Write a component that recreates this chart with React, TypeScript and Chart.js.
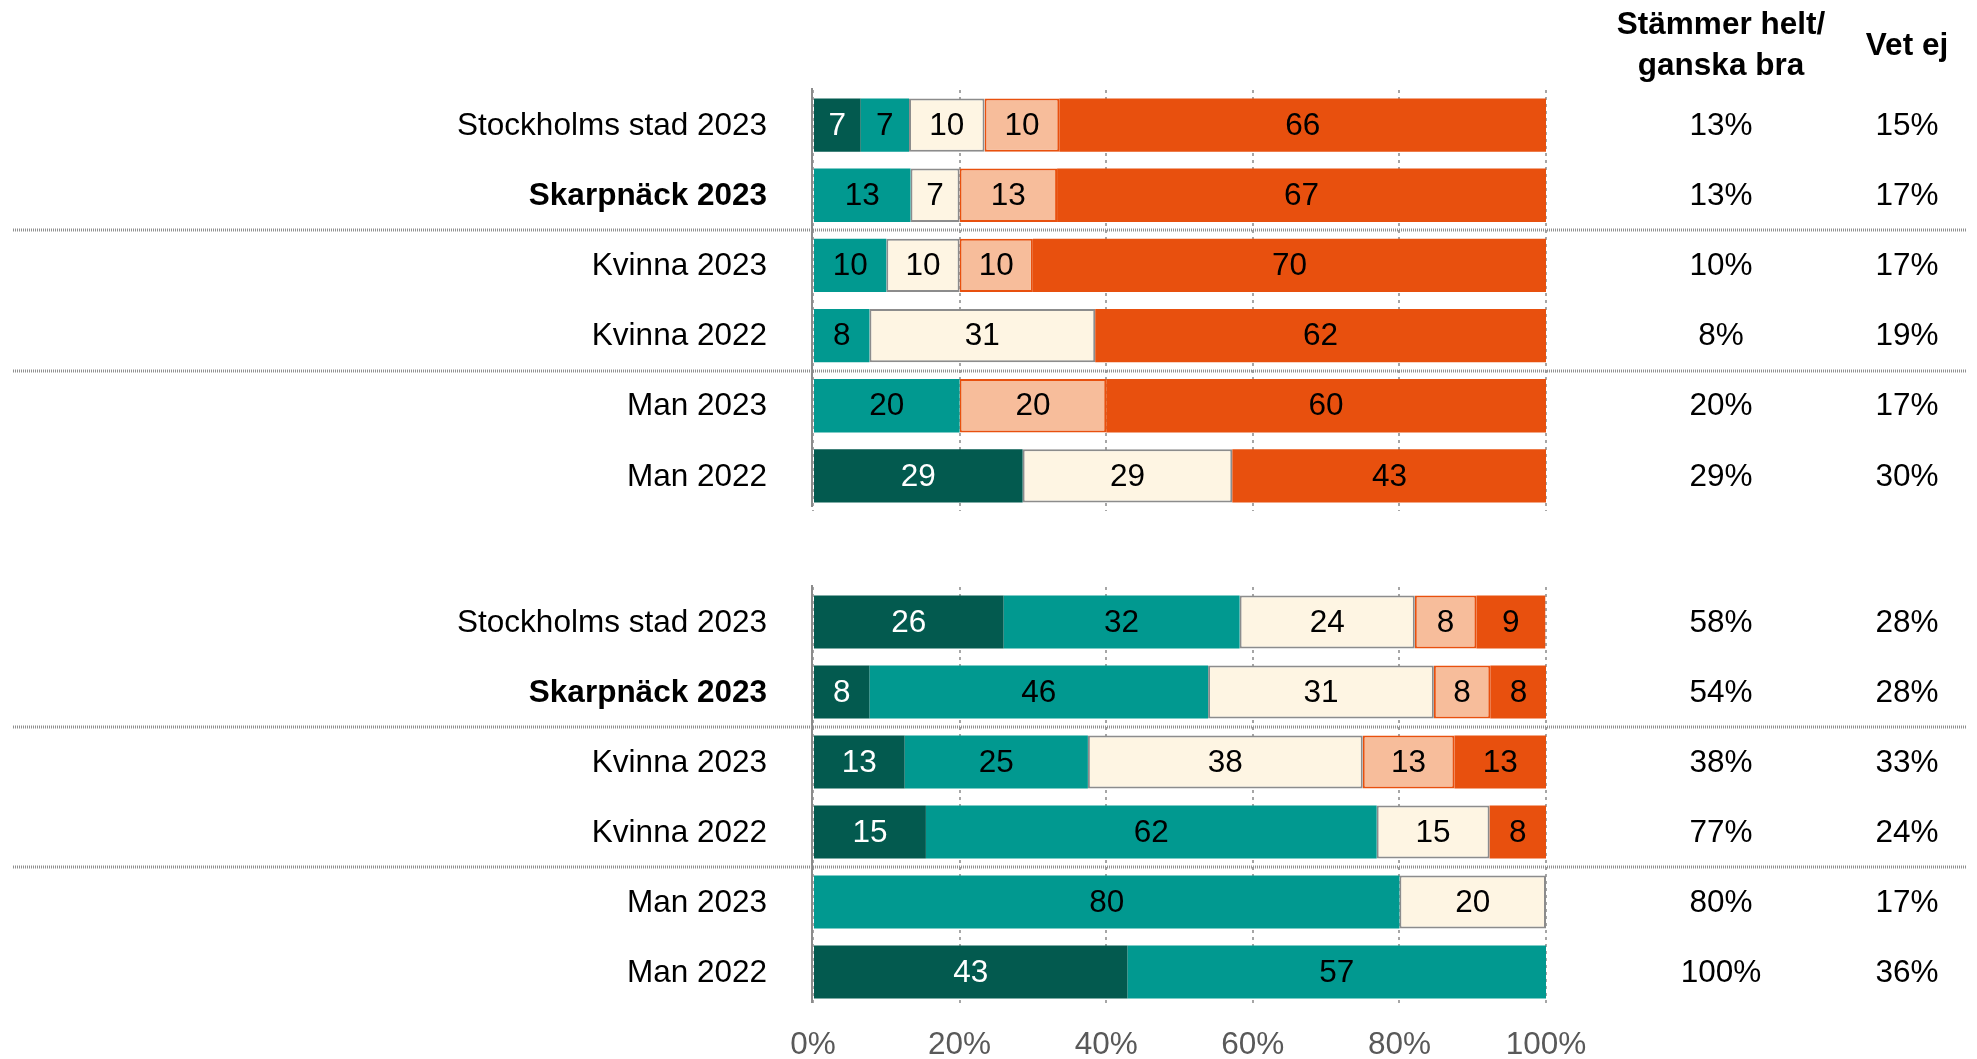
import React, { useEffect, useRef } from "react";
import { Chart, registerables } from "chart.js";

Chart.register(...registerables);

// ---------- data ----------
const categories = [
  "Stockholms stad 2023",
  "Skarpnäck 2023",
  "Kvinna 2023",
  "Kvinna 2022",
  "Man 2023",
  "Man 2022",
];
const boldCategory = "Skarpnäck 2023";
const seriesNames = [
  "Stämmer helt",
  "Stämmer ganska bra",
  "Varken eller",
  "Stämmer ganska dåligt",
  "Stämmer inte alls",
];

// upper panel
const topHelt = [6.5, 0, 0, 0, 0, 28.6];
const topGanska = [6.6, 13.3, 10, 7.7, 20, 0];
const topNeutral = [10.3, 6.7, 10, 30.8, 0, 28.6];
const topGanskaDalig = [10.2, 13.3, 10, 0, 20, 0];
const topDalig = [66.4, 66.7, 70, 61.5, 60, 42.9];
const topAgree = ["13%", "13%", "10%", "8%", "20%", "29%"];
const topDontKnow = ["15%", "17%", "17%", "19%", "17%", "30%"];

// lower panel
const botHelt = [26, 7.7, 12.5, 15.4, 0, 42.9];
const botGanska = [32.2, 46.2, 25, 61.5, 80, 57.1];
const botNeutral = [23.9, 30.8, 37.5, 15.4, 20, 0];
const botGanskaDalig = [8.4, 7.7, 12.5, 0, 0, 0];
const botDalig = [9.4, 7.7, 12.5, 7.7, 0, 0];
const botAgree = ["58%", "54%", "38%", "77%", "80%", "100%"];
const botDontKnow = ["28%", "28%", "33%", "24%", "17%", "36%"];

const xTickValues = [0, 20, 40, 60, 80, 100];
const headerAgree = ["Stämmer helt/", "ganska bra"];
const headerDontKnow = "Vet ej";

// ---------- styles ----------
const COLORS = ["#035a4f", "#019990", "#fef5e3", "#f7bd9b", "#e8500e"];
const BORDERS = [null, null, "#8c8c8c", "#e8500e", null];
const LABEL_COLORS = ["#ffffff", "#000000", "#000000", "#000000", "#000000"];
const SANS = '"Liberation Sans", Arial, sans-serif';
const FS = 31.5;

const W = 1977;
const LABEL_RIGHT = 767;
const COL_AGREE = 1721;
const COL_DK = 1907;

function buildConfig(
  series: number[][],
  agree: string[],
  dontKnow: string[],
  showHeader: boolean,
  showTicks: boolean,
  padding: { top: number; bottom: number }
): any {
  const overlay = {
    id: "overlay" + (showHeader ? "Top" : "Bot"),
    afterDatasetsDraw(chart: any) {
      const ctx = chart.ctx;
      const xs = chart.scales.x;
      const ys = chart.scales.y;
      const area = chart.chartArea;
      ctx.save();
      // axis line
      ctx.strokeStyle = "#8c8c8c";
      ctx.lineWidth = 2;
      ctx.setLineDash([]);
      const x0 = Math.round(xs.getPixelForValue(0)) - 1;
      ctx.beginPath();
      ctx.moveTo(x0, area.top - 2);
      ctx.lineTo(x0, area.bottom - 4);
      ctx.stroke();

      // segment value labels
      ctx.font = `${FS}px ${SANS}`;
      ctx.textAlign = "center";
      ctx.textBaseline = "middle";
      series.forEach((vals, d) => {
        const meta = chart.getDatasetMeta(d);
        meta.data.forEach((bar: any, i: number) => {
          const v = vals[i];
          if (!v) return;
          const p = bar.getProps(["x", "base", "y"], true);
          ctx.fillStyle = LABEL_COLORS[d];
          ctx.fillText(String(Math.round(v)), (p.x + p.base) / 2, p.y + 1);
        });
      });

      // category labels and right columns
      categories.forEach((c, i) => {
        const y = ys.getPixelForValue(i);
        ctx.fillStyle = "#000000";
        ctx.textAlign = "right";
        ctx.font = `${c === boldCategory ? "bold " : ""}${FS}px ${SANS}`;
        ctx.fillText(c, LABEL_RIGHT, y + 1);
        ctx.font = `${FS}px ${SANS}`;
        ctx.textAlign = "center";
        ctx.fillText(agree[i], COL_AGREE, y + 1);
        ctx.fillText(dontKnow[i], COL_DK, y + 1);
      });

      // separators
      ctx.strokeStyle = "#8f8f8f";
      ctx.lineWidth = 3;
      ctx.setLineDash([1, 1]);
      [1, 3].forEach((i) => {
        const y = Math.round((ys.getPixelForValue(i) + ys.getPixelForValue(i + 1)) / 2);
        ctx.beginPath();
        ctx.moveTo(13, y);
        ctx.lineTo(1967, y);
        ctx.stroke();
      });
      ctx.setLineDash([]);

      // header
      if (showHeader) {
        ctx.fillStyle = "#000000";
        ctx.textAlign = "center";
        ctx.font = `bold ${FS}px ${SANS}`;
        ctx.fillText(headerAgree[0], COL_AGREE, 25);
        ctx.fillText(headerAgree[1], COL_AGREE, 66);
        ctx.fillText(headerDontKnow, COL_DK, 46);
      }
      ctx.restore();
    },
  };

  return {
    type: "bar",
    data: {
      labels: categories,
      datasets: series.map((vals, d) => ({
        label: seriesNames[d],
        data: vals,
        backgroundColor: COLORS[d],
        borderColor: BORDERS[d] || COLORS[d],
        borderWidth: BORDERS[d] ? 2 : 0,
        borderSkipped: false,
        barPercentage: 0.76,
        categoryPercentage: 1,
      })),
    },
    options: {
      indexAxis: "y",
      responsive: false,
      animation: false,
      devicePixelRatio: 1,
      layout: {
        padding: { left: 813, right: W - 1546, top: padding.top, bottom: padding.bottom },
      },
      plugins: {
        legend: { display: false },
        tooltip: { enabled: false },
      },
      scales: {
        y: {
          type: "category",
          stacked: true,
          display: false,
        },
        x: {
          type: "linear",
          stacked: true,
          min: 0,
          max: 100,
          afterBuildTicks: (scale: any) => {
            scale.ticks = xTickValues.map((v) => ({ value: v }));
          },
          afterFit: (scale: any) => {
            scale.height = showTicks ? 52 : 0;
          },
          grid: {
            display: true,
            color: "#a6a6a6",
            lineWidth: 2,
            drawTicks: false,
          },
          border: { display: false, dash: [3, 4] },
          ticks: {
            display: showTicks,
            padding: 19,
            color: "#595959",
            font: { family: SANS, size: FS },
            callback: (v: any) => v + "%",
          },
        },
      },
    },
    plugins: [overlay],
  };
}

export default function App() {
  const topRef = useRef<HTMLCanvasElement>(null);
  const botRef = useRef<HTMLCanvasElement>(null);

  useEffect(() => {
    document.body.style.margin = "0";
    const c1 = new Chart(
      topRef.current as HTMLCanvasElement,
      buildConfig(
        [topHelt, topGanska, topNeutral, topGanskaDalig, topDalig],
        topAgree,
        topDontKnow,
        true,
        false,
        { top: 90, bottom: 29 }
      )
    );
    const c2 = new Chart(
      botRef.current as HTMLCanvasElement,
      buildConfig(
        [botHelt, botGanska, botNeutral, botGanskaDalig, botDalig],
        botAgree,
        botDontKnow,
        false,
        true,
        { top: 47, bottom: 0 }
      )
    );
    return () => {
      c1.destroy();
      c2.destroy();
    };
  }, []);

  return (
    <div
      style={{
        position: "absolute",
        left: 0,
        top: 0,
        width: W,
        height: 1059,
        overflow: "hidden",
        background: "#ffffff",
      }}
    >
      <canvas
        ref={topRef}
        width={W}
        height={540}
        style={{ position: "absolute", left: 0, top: 0, width: W, height: 540 }}
      />
      <canvas
        ref={botRef}
        width={W}
        height={519}
        style={{ position: "absolute", left: 0, top: 540, width: W, height: 519 }}
      />
    </div>
  );
}
